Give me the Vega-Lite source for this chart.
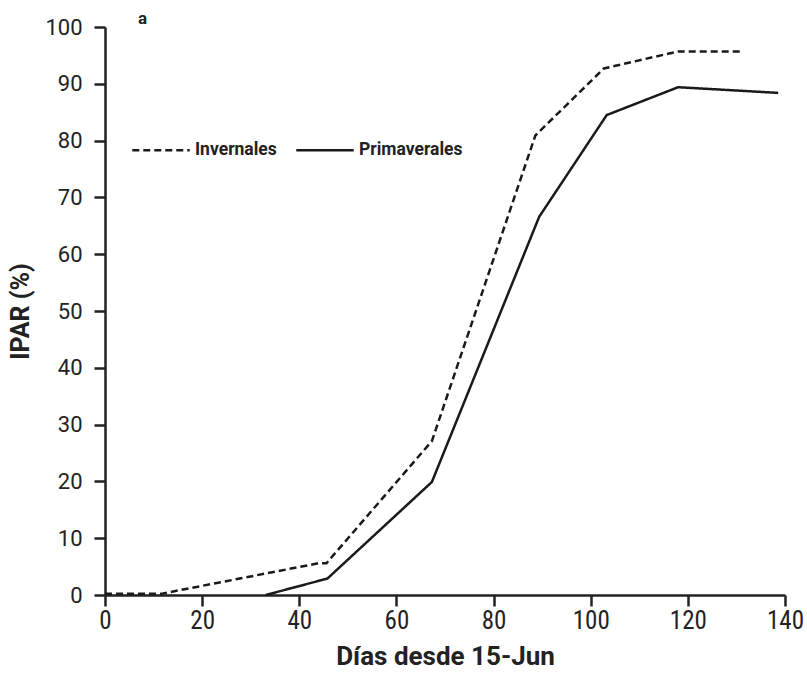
{
  "$schema": "https://vega.github.io/schema/vega-lite/v6.json",
  "width": 680,
  "height": 568,
  "autosize": {"type": "none"},
  "padding": {"left": 105, "top": 27, "right": 22, "bottom": 79},
  "background": "white",
  "title": {
    "text": "a",
    "anchor": "start",
    "frame": "group",
    "dx": 33,
    "dy": 16,
    "offset": 4,
    "font": "Roboto",
    "fontSize": 17,
    "fontWeight": "bold",
    "color": "#222"
  },
  "config": {
    "view": {"stroke": null},
    "axis": {
      "domainColor": "#222",
      "domainWidth": 2.5,
      "tickColor": "#222",
      "tickWidth": 2.5,
      "tickSize": 11,
      "grid": false,
      "labelFlush": false,
      "labelFont": "Roboto",
      "labelFontSize": 22,
      "labelColor": "#222",
      "titleFont": "Roboto",
      "titleFontSize": 24,
      "titleFontWeight": "bold",
      "titleColor": "#222"
    }
  },
  "data": {
    "values": [
      {"dias": 0, "ipar": 0.2, "tipo": "Invernales"},
      {"dias": 11.5, "ipar": 0.2, "tipo": "Invernales"},
      {"dias": 44, "ipar": 5.6, "tipo": "Invernales"},
      {"dias": 45.6, "ipar": 5.6, "tipo": "Invernales"},
      {"dias": 67.3, "ipar": 27.1, "tipo": "Invernales"},
      {"dias": 88.6, "ipar": 80.9, "tipo": "Invernales"},
      {"dias": 102.7, "ipar": 92.7, "tipo": "Invernales"},
      {"dias": 118, "ipar": 95.7, "tipo": "Invernales"},
      {"dias": 131.3, "ipar": 95.7, "tipo": "Invernales"},
      {"dias": 33.1, "ipar": 0, "tipo": "Primaverales"},
      {"dias": 45.8, "ipar": 2.9, "tipo": "Primaverales"},
      {"dias": 67.3, "ipar": 19.9, "tipo": "Primaverales"},
      {"dias": 89.4, "ipar": 66.6, "tipo": "Primaverales"},
      {"dias": 103.3, "ipar": 84.5, "tipo": "Primaverales"},
      {"dias": 118, "ipar": 89.4, "tipo": "Primaverales"},
      {"dias": 138.6, "ipar": 88.4, "tipo": "Primaverales"}
    ]
  },
  "mark": {"type": "line", "color": "#1a1a1a", "strokeWidth": 2.5, "clip": false},
  "encoding": {
    "x": {
      "field": "dias",
      "type": "quantitative",
      "scale": {"domain": [0, 140], "nice": false},
      "axis": {
        "title": "Días desde 15-Jun",
        "values": [0, 20, 40, 60, 80, 100, 120, 140],
        "labelPadding": 2,
        "titlePadding": 10,
        "labelFontSize": 25,
        "titleFontSize": 26,
        "labelFont": "Roboto Condensed, Roboto",
        "titleFont": "Roboto"
      }
    },
    "y": {
      "field": "ipar",
      "type": "quantitative",
      "scale": {"domain": [0, 100], "nice": false},
      "axis": {
        "title": "IPAR (%)",
        "values": [0, 10, 20, 30, 40, 50, 60, 70, 80, 90, 100],
        "labelPadding": 12,
        "titlePadding": 11,
        "titleFontSize": 25
      }
    },
    "strokeDash": {
      "field": "tipo",
      "type": "nominal",
      "scale": {"domain": ["Invernales", "Primaverales"], "range": [[7, 4], [1, 0]]},
      "legend": {
        "title": null,
        "orient": "none",
        "direction": "horizontal",
        "legendX": 26,
        "legendY": 93,
        "symbolType": "stroke",
        "symbolSize": 3300,
        "symbolStrokeWidth": 2.5,
        "symbolStrokeColor": "#1a1a1a",
        "labelFont": "Roboto",
        "labelFontSize": 17.5,
        "labelFontWeight": "bold",
        "labelColor": "#222",
        "labelOffset": 4,
        "columnPadding": 14
      }
    }
  }
}
